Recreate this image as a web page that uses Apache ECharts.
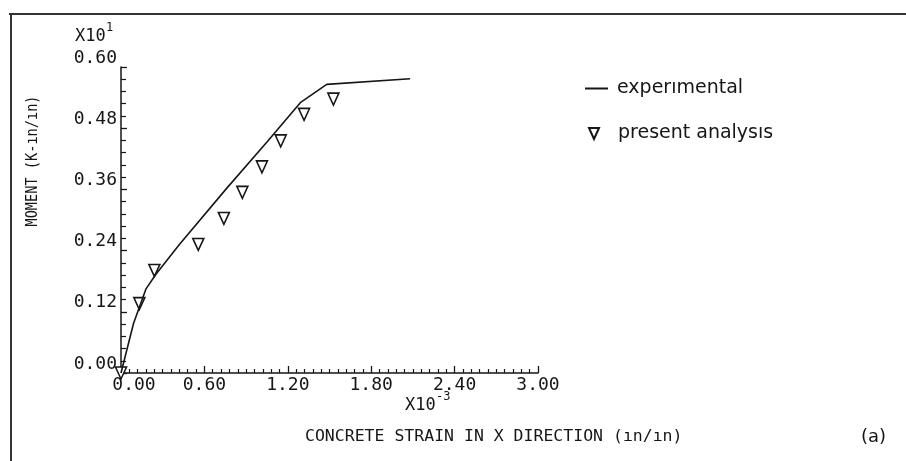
<!DOCTYPE html>
<html>
<head>
<meta charset="utf-8">
<script src="https://cdn.jsdelivr.net/npm/echarts@6/dist/echarts.min.js"></script>
<style>
  html, body { margin: 0; padding: 0; background: #fff; }
  #chart { width: 906px; height: 461px; }
</style>
</head>
<body>
<div id="chart"></div>
<script>
// Concrete strain (x10^-3 in/in) vs moment (x10^1 K-in/in)
const expStrain  = [0, 0.09, 0.18, 0.25, 0.42, 0.76, 1.05, 1.29, 1.48, 2.08];
const expMoment  = [0, 0.097, 0.165, 0.193, 0.252, 0.362, 0.453, 0.530, 0.566, 0.577];

const anaStrain  = [0, 0.132, 0.240, 0.556, 0.740, 0.873, 1.014, 1.149, 1.317, 1.528];
const anaMoment  = [0, 0.136, 0.201, 0.252, 0.303, 0.354, 0.404, 0.455, 0.507, 0.537];

const xTickLabels = ['0.00', '0.60', '1.20', '1.80', '2.40', '3.00'];
const yTickLabels = ['0.00', '0.12', '0.24', '0.36', '0.48', '0.60'];

const seriesNames = ['experımental', 'present analysıs'];

const INK = '#161616';
const MONO = '"DejaVu Sans Mono", monospace';
const SANS = '"DejaVu Sans", sans-serif';
const TRI_DOWN = 'path://M0,0 L10,0 L5,11 Z';

const zip = (xs, ys) => xs.map((x, i) => [x, ys[i]]);

const chart = echarts.init(document.getElementById('chart'), null, { renderer: 'canvas' });

chart.setOption({
  animation: false,
  backgroundColor: '#fff',
  grid: { left: 121, top: 67, width: 417, height: 306, containLabel: false },
  xAxis: {
    type: 'value', min: 0, max: 3, interval: 0.6,
    axisLine: { show: true, lineStyle: { color: INK, width: 1.5 } },
    axisTick: { show: true, inside: true, length: 7, lineStyle: { color: INK, width: 1.3 } },
    minorTick: { show: true, splitNumber: 10, length: 4, lineStyle: { color: INK, width: 1.2 } },
    splitLine: { show: false },
    axisLabel: {
      margin: 3, color: INK, fontFamily: MONO, fontSize: 18,
      formatter: v => {
        const i = Math.round(v / 0.6);
        // the origin label is nudged right, clear of the y labels
        return i === 0 ? '{first|' + xTickLabels[i] + '}' : xTickLabels[i];
      },
      rich: { first: { fontFamily: MONO, fontSize: 18, color: INK, padding: [0, 0, 0, 26] } }
    }
  },
  yAxis: {
    type: 'value', min: 0, max: 0.6, interval: 0.12,
    axisLine: { show: true, lineStyle: { color: INK, width: 1.5 } },
    axisTick: { show: true, inside: true, length: 6, lineStyle: { color: INK, width: 1.3 } },
    minorTick: { show: true, splitNumber: 5, length: 5, lineStyle: { color: INK, width: 1.2 } },
    splitLine: { show: false },
    axisLabel: {
      margin: 4, color: INK, fontFamily: MONO, fontSize: 18,
      verticalAlign: 'bottom',
      formatter: v => yTickLabels[Math.round(v / 0.12)]
    }
  },
  legend: [
    {
      data: [{ name: seriesNames[0], icon: 'rect' }], left: 580, top: 74, itemWidth: 23, itemHeight: 2,
      textStyle: { color: INK, fontFamily: SANS, fontSize: 19, padding: [0, 0, 0, 4] }
    },
    {
      data: [seriesNames[1]], left: 583, top: 119, itemWidth: 10, itemHeight: 11,
      textStyle: { color: INK, fontFamily: SANS, fontSize: 19, padding: [0, 0, 0, 14] }
    }
  ],
  series: [
    {
      name: seriesNames[0], type: 'line', symbol: 'none',
      lineStyle: { color: INK, width: 1.6 },
      itemStyle: { color: INK },
      data: zip(expStrain, expMoment)
    },
    {
      name: seriesNames[1], type: 'scatter', symbol: TRI_DOWN, symbolSize: [11, 12],
      itemStyle: { color: '#fff', borderColor: INK, borderWidth: 1.6, opacity: 1 },
      data: zip(anaStrain, anaMoment)
    }
  ],
  graphic: [
    // frame around the figure
    { type: 'line', shape: { x1: 9, y1: 14, x2: 906, y2: 14 }, style: { stroke: '#333', lineWidth: 2 } },
    { type: 'line', shape: { x1: 11, y1: 14, x2: 11, y2: 461 }, style: { stroke: '#333', lineWidth: 2 } },
    // y scale multiplier
    { type: 'text', left: 75, top: 28, style: { text: 'X10', fill: INK, font: '17px ' + MONO } },
    { type: 'text', left: 106, top: 22, style: { text: '1', fill: INK, font: '12px ' + MONO } },
    // y axis title, set in a condensed face by squeezing along the text direction
    {
      type: 'text', x: 25, y: 161, rotation: Math.PI / 2, scaleX: 0.85,
      style: { text: 'MOMENT (K-ın/ın)', fill: INK, font: '16px ' + MONO, align: 'center', verticalAlign: 'top' }
    },
    // x scale multiplier
    { type: 'text', left: 405, top: 397, style: { text: 'X10', fill: INK, font: '17px ' + MONO } },
    { type: 'text', left: 436, top: 391, style: { text: '-3', fill: INK, font: '12px ' + MONO } },
    // x axis title
    { type: 'text', left: 305, top: 428, style: { text: 'CONCRETE STRAIN IN X DIRECTION (ın/ın)', fill: INK, font: '16.5px ' + MONO } },
    // panel tag
    { type: 'text', left: 861, top: 428, style: { text: '(a)', fill: INK, font: '18px ' + SANS } }
  ]
});
</script>
</body>
</html>
